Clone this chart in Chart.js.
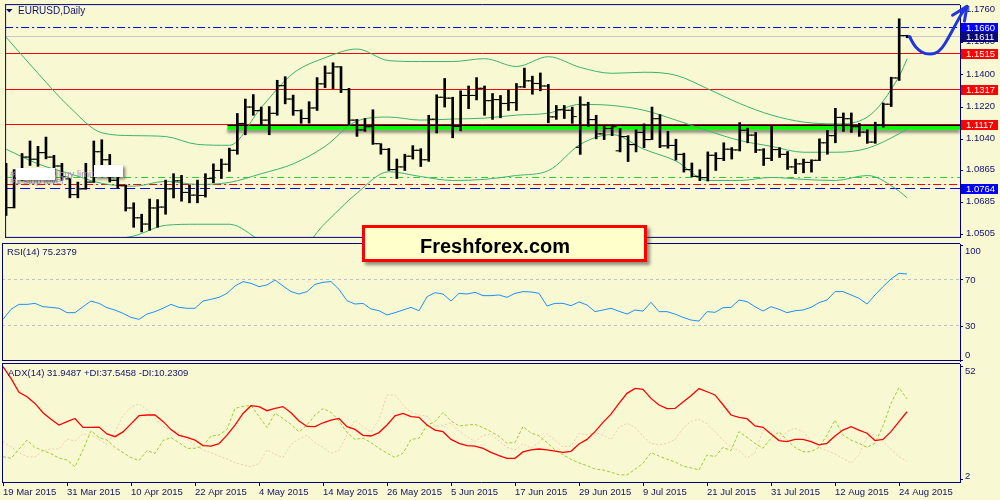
<!DOCTYPE html>
<html>
<head>
<meta charset="utf-8">
<title>EURUSD Daily</title>
<script src="https://cdn.jsdelivr.net/npm/chart.js@4.4.1/dist/chart.umd.min.js"></script>
<style>
  html, body { margin:0; padding:0; background:#F8F8D2; }
  #wrap { position:relative; width:1000px; height:500px; overflow:hidden; background:#F8F8D2; }
  #wrap canvas { position:absolute; left:0; }
  #brand { position:absolute; left:362px; top:225px; width:285px; height:37px; box-sizing:border-box;
    border:3px solid #FF0000; background:#FFFFCC; box-shadow:3px 3px 3px rgba(60,60,60,0.55);
    font:bold 20px "Liberation Sans", Arial, sans-serif; color:#000; z-index:5; }
  #brand span { position:absolute; left:55px; top:7px; line-height:22px; white-space:nowrap; }
</style>
</head>
<body>
<div id="wrap">
  <canvas id="cMain" width="1000" height="243" style="top:0px"></canvas>
  <canvas id="cRsi" width="1000" height="119" style="top:243px"></canvas>
  <canvas id="cAdx" width="1000" height="138" style="top:362px"></canvas>
  <div id="brand"><span>Freshforex.com</span></div>
</div>
<script>
// ---------------- DATA ----------------
const dates = [
 '19 Mar 2015','20 Mar 2015','23 Mar 2015','24 Mar 2015','25 Mar 2015','26 Mar 2015','27 Mar 2015','30 Mar 2015','31 Mar 2015',
 '1 Apr 2015','2 Apr 2015','3 Apr 2015','6 Apr 2015','7 Apr 2015','8 Apr 2015','9 Apr 2015','10 Apr 2015','13 Apr 2015','14 Apr 2015',
 '15 Apr 2015','16 Apr 2015','17 Apr 2015','20 Apr 2015','21 Apr 2015','22 Apr 2015','23 Apr 2015','24 Apr 2015','27 Apr 2015',
 '28 Apr 2015','29 Apr 2015','30 Apr 2015',
 '1 May 2015','4 May 2015','5 May 2015','6 May 2015','7 May 2015','8 May 2015','11 May 2015','12 May 2015','13 May 2015','14 May 2015',
 '15 May 2015','18 May 2015','19 May 2015','20 May 2015','21 May 2015','22 May 2015','25 May 2015','26 May 2015','27 May 2015',
 '28 May 2015','29 May 2015',
 '1 Jun 2015','2 Jun 2015','3 Jun 2015','4 Jun 2015','5 Jun 2015','8 Jun 2015','9 Jun 2015','10 Jun 2015','11 Jun 2015','12 Jun 2015',
 '15 Jun 2015','16 Jun 2015','17 Jun 2015','18 Jun 2015','19 Jun 2015','22 Jun 2015','23 Jun 2015','24 Jun 2015','25 Jun 2015',
 '26 Jun 2015','29 Jun 2015','30 Jun 2015',
 '1 Jul 2015','2 Jul 2015','3 Jul 2015','6 Jul 2015','7 Jul 2015','8 Jul 2015','9 Jul 2015','10 Jul 2015','13 Jul 2015','14 Jul 2015',
 '15 Jul 2015','16 Jul 2015','17 Jul 2015','20 Jul 2015','21 Jul 2015','22 Jul 2015','23 Jul 2015','24 Jul 2015','27 Jul 2015',
 '28 Jul 2015','29 Jul 2015','30 Jul 2015','31 Jul 2015',
 '3 Aug 2015','4 Aug 2015','5 Aug 2015','6 Aug 2015','7 Aug 2015','10 Aug 2015','11 Aug 2015','12 Aug 2015','13 Aug 2015',
 '14 Aug 2015','17 Aug 2015','18 Aug 2015','19 Aug 2015','20 Aug 2015','21 Aug 2015','24 Aug 2015','25 Aug 2015'
];

const axisDates = ['19 Mar 2015','31 Mar 2015','10 Apr 2015','22 Apr 2015','4 May 2015','14 May 2015','26 May 2015',
 '5 Jun 2015','17 Jun 2015','29 Jun 2015','9 Jul 2015','21 Jul 2015','31 Jul 2015','12 Aug 2015','24 Aug 2015'];

const opens = [
 1.0836,1.0657,1.0822,1.0940,1.0928,1.0965,1.0940,1.0890,1.0818,1.0730,
 1.0762,1.0800,1.0970,1.0925,1.0810,1.0780,1.0655,1.0600,1.0565,1.0655,
 1.0660,1.0762,1.0807,1.0742,1.0727,1.0725,1.0820,1.0865,1.0900,1.0978,
 1.1128,1.1220,1.1200,1.1147,1.1185,1.1340,1.1265,1.1200,1.1156,1.1215,
 1.1350,1.1410,1.1445,1.1318,1.1147,1.1092,1.1110,1.1015,1.0983,1.0870,
 1.0885,1.0945,1.0978,1.0925,1.1152,1.1275,1.1270,1.1112,1.1285,1.1285,
 1.1325,1.1256,1.1262,1.1240,1.1245,1.1333,1.1367,1.1352,1.1338,1.1165,
 1.1205,1.1202,1.0995,1.1232,1.1150,1.1070,1.1100,1.0975,1.1055,1.1010,
 1.1078,1.1038,1.1155,1.1003,1.1005,1.0955,1.0870,1.0832,1.0825,1.0950,
 1.0932,1.0984,1.0980,1.1090,1.1063,1.0980,1.0933,1.0982,1.0955,1.0885,
 1.0902,1.0910,1.0922,1.1020,1.1060,1.1162,1.1155,1.1110,1.1080,1.1024,
 1.1120,1.1236,1.1383,1.1620];
const highs = [
 1.0905,1.0870,1.0960,1.1030,1.1000,1.1052,1.0950,1.0905,1.0822,1.0800,
 1.0905,1.1030,1.1037,1.0955,1.0838,1.0784,1.0684,1.0620,1.0705,1.0702,
 1.0811,1.0847,1.0838,1.0784,1.0811,1.0847,1.0902,1.0929,1.0990,1.1184,
 1.1265,1.1290,1.1220,1.1223,1.1370,1.1390,1.1287,1.1205,1.1250,1.1385,
 1.1450,1.1468,1.1447,1.1325,1.1151,1.1156,1.1205,1.1015,1.0988,1.0929,
 1.0956,1.1004,1.0987,1.1174,1.1289,1.1380,1.1275,1.1311,1.1338,1.1385,
 1.1338,1.1296,1.1285,1.1316,1.1352,1.1438,1.1393,1.1411,1.1347,1.1229,
 1.1229,1.1220,1.1278,1.1247,1.1174,1.1114,1.1120,1.1101,1.1060,1.1093,
 1.1126,1.1220,1.1178,1.1084,1.1040,1.0962,1.0907,1.0869,1.0969,1.0965,
 1.1020,1.0993,1.1133,1.1102,1.1078,1.0987,1.1114,1.0993,1.0971,1.0929,
 1.0929,1.0925,1.1042,1.1089,1.1213,1.1187,1.1187,1.1129,1.1093,1.1135,
 1.1243,1.1387,1.1714,1.1622];
const lows = [
 1.0613,1.0655,1.0810,1.0893,1.0888,1.0930,1.0840,1.0810,1.0712,1.0712,
 1.0760,1.0798,1.0878,1.0800,1.0766,1.0638,1.0547,1.0521,1.0530,1.0547,
 1.0620,1.0711,1.0693,1.0684,1.0684,1.0716,1.0796,1.0820,1.0860,1.0956,
 1.1065,1.1174,1.1120,1.1065,1.1174,1.1238,1.1174,1.1129,1.1130,1.1201,
 1.1329,1.1323,1.1301,1.1120,1.1056,1.1084,1.1011,1.0956,1.0865,1.0820,
 1.0865,1.0929,1.0887,1.0916,1.1075,1.1220,1.1048,1.1087,1.1211,1.1260,
 1.1174,1.1151,1.1160,1.1201,1.1201,1.1329,1.1292,1.1311,1.1132,1.1151,
 1.1156,1.1129,1.0955,1.1111,1.1042,1.1038,1.1060,1.0969,1.0915,1.0969,
 1.0993,1.1038,1.0993,1.0990,1.0923,1.0856,1.0829,1.0808,1.0806,1.0865,
 1.0920,1.0929,1.0974,1.1020,1.0965,1.0893,1.0920,1.0938,1.0871,1.0847,
 1.0852,1.0856,1.0920,1.0956,1.1020,1.1084,1.1078,1.1056,1.1017,1.1017,
 1.1107,1.1223,1.1369,1.1608];
const closes = [
 1.0657,1.0822,1.0940,1.0928,1.0965,1.0940,1.0890,1.0830,1.0730,1.0762,
 1.0800,1.0970,1.0925,1.0810,1.0780,1.0655,1.0600,1.0565,1.0655,1.0660,
 1.0762,1.0807,1.0742,1.0727,1.0725,1.0820,1.0865,1.0900,1.0978,1.1128,
 1.1220,1.1200,1.1147,1.1185,1.1340,1.1265,1.1200,1.1156,1.1215,1.1350,
 1.1410,1.1445,1.1318,1.1147,1.1092,1.1110,1.1015,1.0983,1.0870,1.0885,
 1.0945,1.0978,1.0925,1.1152,1.1275,1.1270,1.1112,1.1285,1.1285,1.1325,
 1.1256,1.1262,1.1240,1.1245,1.1333,1.1367,1.1352,1.1338,1.1165,1.1205,
 1.1202,1.1167,1.1232,1.1150,1.1070,1.1100,1.1110,1.1055,1.1010,1.1078,
 1.1038,1.1155,1.1003,1.1005,1.0955,1.0870,1.0832,1.0825,1.0950,1.0932,
 1.0984,1.0980,1.1090,1.1063,1.0980,1.0933,1.0982,1.0955,1.0885,1.0902,
 1.0910,1.0922,1.1020,1.1060,1.1162,1.1155,1.1110,1.1080,1.1024,1.1120,
 1.1236,1.1383,1.1620,1.1611];

// Bollinger bands at every 4th bar (bar index)
const bbIdx = [0,4,8,12,16,20,24,28,32,36,40,44,48,52,56,60,64,68,72,76,80,84,88,92,96,100,104,108,112,113];
const bbUpper = [1.1611,1.1409,1.1218,1.1076,1.1060,1.1055,1.1011,1.1006,1.1218,1.1409,1.1496,1.1545,1.1480,1.1475,1.1475,
 1.1491,1.1447,1.1502,1.1442,1.1409,1.1415,1.1398,1.1322,1.1240,1.1175,1.1136,1.1126,1.1164,1.1393,1.1491];
const bbMiddle = [1.0984,1.0902,1.0847,1.0793,1.0777,1.0804,1.0787,1.0798,1.0847,1.0902,1.1000,1.1142,1.1164,1.1147,1.1153,
 1.1158,1.1175,1.1186,1.1235,1.1229,1.1202,1.1147,1.1087,1.1033,1.1000,1.0967,1.0967,1.0989,1.1071,1.1098];
const bbLower = [1.0357,1.0395,1.0477,1.0477,1.0498,1.0558,1.0564,1.0564,1.0471,1.0395,1.0569,1.0738,1.0858,1.0831,1.0809,
 1.0815,1.0837,1.0864,1.1011,1.1066,1.0984,1.0918,1.0809,1.0809,1.0826,1.0815,1.0809,1.0837,1.0749,1.0711];

const rsi = [
 35.8,44.5,48.8,48.8,49.7,46.8,46.2,45.4,41.6,41.6,
 46.8,51.7,49.7,45.9,43.9,41.0,37.5,35.8,40.4,42.5,
 45.4,48.8,46.2,45.4,45.4,51.7,53.2,54.9,58.4,64.8,
 68.6,67.1,64.2,65.7,70.0,64.8,59.9,57.8,59.9,66.2,
 68.0,68.6,61.9,52.0,49.1,49.7,44.8,43.3,39.6,41.6,
 43.9,46.2,43.3,55.5,59.0,57.8,51.7,58.4,57.8,59.3,
 56.4,56.4,57.0,54.9,58.4,59.9,59.6,58.4,47.4,49.7,
 49.7,47.7,50.9,48.3,42.5,43.9,45.4,42.8,40.4,43.9,
 43.0,50.6,42.5,42.5,40.4,37.5,35.2,34.3,42.5,41.9,
 45.9,46.2,52.6,51.2,46.8,43.0,46.8,44.5,41.6,43.3,
 43.9,46.2,50.3,52.6,59.9,59.9,57.0,54.1,49.1,57.0,
 64.2,70.9,75.8,75.2379];
const adx = [
 51.7,46.6,40.5,38.5,35.6,31.5,28.6,26.1,27.6,29.0,
 25.1,25.1,25.2,22.2,21.0,23.1,26.6,30.2,30.5,30.5,
 27.7,24.1,21.6,20.7,19.5,17.1,16.9,17.9,21.7,26.1,
 31.2,34.6,34.2,32.4,33.4,34.2,31.5,27.9,25.5,25.4,
 27.1,28.3,29.0,25.4,24.2,21.6,21.3,22.8,26.1,30.1,
 31.2,29.8,29.5,26.1,23.9,23.2,19.8,18.1,17.1,16.9,
 15.9,14.1,12.7,11.5,11.5,14.3,15.2,15.6,15.2,14.7,
 14.1,14.6,17.8,19.8,23.2,27.3,30.9,35.6,40.0,42.2,
 41.8,37.8,34.9,33.3,33.4,36.2,39.0,42.1,40.7,39.3,
 35.0,30.5,29.5,28.9,25.7,25.1,22.2,19.3,18.8,19.8,
 19.8,18.8,17.4,18.1,21.3,23.9,25.4,23.9,22.5,19.3,
 19.8,23.2,27.6,31.9487];
const plusDI = [
 12.2,11.5,15.5,19.5,16.3,14.9,13.5,11.6,10.8,7.8,
 15.2,23.6,20.6,19.5,16.3,14.0,11.9,10.5,14.9,13.7,
 19.3,20.6,18.4,15.9,15.9,16.9,21.3,21.7,24.2,33.4,
 34.3,34.7,29.8,25.0,31.2,29.0,26.4,23.1,26.1,30.5,
 33.3,31.7,27.9,22.8,19.8,20.4,18.4,15.9,13.8,11.9,
 13.7,19.8,20.3,26.1,27.6,31.7,27.9,25.7,26.1,26.4,
 25.0,23.2,21.2,18.1,18.5,25.4,22.6,21.4,18.4,15.2,
 13.1,11.1,9.5,8.3,6.8,6.4,5.4,4.3,4.2,6.7,
 9.3,14.0,12.5,11.1,9.9,8.1,7.3,6.4,13.0,12.2,
 16.3,14.9,23.2,20.7,18.1,15.9,20.3,23.2,19.5,16.3,
 14.4,14.4,16.3,21.7,28.3,21.7,19.5,18.1,16.3,18.1,
 25.7,35.6,42.5,37.5458];
const minusDI = [
 18.8,16.6,14.0,12.2,12.1,14.7,15.7,15.5,20.0,19.1,
 22.3,21.7,19.8,17.5,23.2,30.2,33.9,35.5,32.8,29.0,
 25.5,23.9,22.9,20.0,17.2,15.2,14.0,12.5,11.2,9.6,
 8.6,7.8,9.3,15.2,13.3,11.9,17.6,20.0,21.6,18.4,
 16.3,13.7,14.9,21.9,28.3,25.4,22.9,28.6,39.3,39.3,
 34.9,31.5,30.5,30.1,25.4,26.1,26.9,23.3,21.0,18.8,
 21.6,22.2,19.1,16.3,15.2,17.9,16.0,18.5,22.3,19.5,
 16.5,16.9,22.5,21.7,22.9,21.7,19.7,25.0,26.9,25.1,
 21.2,18.1,17.4,18.1,19.7,24.7,27.7,28.6,26.7,23.2,
 19.5,16.3,15.0,11.6,14.0,23.8,22.6,19.5,23.2,24.7,
 23.2,19.5,16.3,14.9,13.4,11.5,9.3,13.0,21.0,22.2,
 18.8,15.5,12.2,10.2309];

const priceTicks = [1.1760, 1.1580, 1.1400, 1.1220, 1.1040, 1.0865, 1.0685, 1.0505];
const rsiTicks = [100, 70, 30, 0];
const rsiLevels = [70, 30];
const adxTicks = [52, 2];

// horizontal price objects
const priceLevels = [1.1660, 1.1611, 1.1515, 1.1317, 1.1117, 1.0824, 1.0786, 1.0764];
const supportLevel = 1.1117;
const supportStartBar = 27.75;
const boxLevels = [1.1660, 1.1611, 1.1515, 1.1317, 1.1117, 1.0764];
// hand-drawn forecast arrow, [bar index, price]
const forecastArrow = [[113.29,1.1615],[113.75,1.1573],[114.4,1.1540],[115.25,1.1517],[116.5,1.1517],
 [117.35,1.1547],[118.1,1.1602],[119.2,1.1693],[120.0,1.1757],[120.5,1.1784]];

// ---------------- STYLE ----------------
const FONT = '"Liberation Sans", Arial, sans-serif';
const NAVY = '#000080';
const TXT = '#12126e';
const LFONT = '9.5px ' + FONT;
const levelColors = ['#0000FF','#C8C8C8','#FF0000','#FF0000','#FF0000','#32CD32','#FF0000','#0000FF'];
const levelDashes = [[8,3,2,3],[],[],[],[],[7,4,2,4],[8,3,2,3],[10,5]];
const boxColors = ['#0000FF','#0A0A78','#FF0000','#FF0000','#FF0000','#0000FF'];
const X_MIN = -0.125, X_MAX = 119.625;
const TICK_R = 1.75;
const TICK_SHIFT = (1 + TICK_R) / 8;

Chart.defaults.font.family = FONT;
Chart.defaults.animation = false;
Chart.defaults.events = [];
Chart.defaults.plugins.legend.display = false;
Chart.defaults.plugins.tooltip.enabled = false;

const fixY = s => { s.width = 40; s.paddingTop = 0; s.paddingBottom = 0; s.paddingLeft = 0; s.paddingRight = 0; };
const fixX = s => { s.height = 18; s.paddingLeft = 0; s.paddingRight = 0; s.paddingTop = 0; s.paddingBottom = 0; };

function xHidden() {
  return { type:'linear', display:false, min:X_MIN, max:X_MAX, offset:false, bounds:'data' };
}
function yAxis(min, max, ticks, showLabels) {
  return {
    type:'linear', position:'right', min:min, max:max, bounds:'data',
    afterBuildTicks: s => { s.ticks = ticks.map(v => ({ value: v })); },
    afterFit: fixY,
    ticks: { display: showLabels, autoSkip:false, padding:3, color:TXT, font:{ size:9.5 }, labelOffset:-1,
             callback: v => v.toFixed(4) },
    grid: { drawOnChartArea:false, drawTicks:true, tickLength:3, color:NAVY },
    border: { display:true, color:NAVY, width:1 }
  };
}
function frame(ctx, a, withBottom) {
  ctx.save();
  ctx.strokeStyle = NAVY; ctx.lineWidth = 1; ctx.setLineDash([]);
  ctx.beginPath();
  ctx.moveTo(a.left + 0.5, a.top - 0.5); ctx.lineTo(a.left + 0.5, a.bottom);
  ctx.moveTo(a.left, a.top - 0.5); ctx.lineTo(a.right, a.top - 0.5);
  if (withBottom) { ctx.moveTo(a.left, a.bottom - 0.5); ctx.lineTo(a.right, a.bottom - 0.5); }
  ctx.stroke();
  ctx.restore();
}
function sideLabels(chart, values) {
  const { ctx, chartArea: a, scales: { y } } = chart;
  ctx.save();
  ctx.font = LFONT; ctx.fillStyle = TXT; ctx.textAlign = 'left'; ctx.textBaseline = 'middle';
  values.forEach(v => {
    let py = y.getPixelForValue(v);
    py = Math.min(Math.max(py, a.top + 7), a.bottom - 6);
    ctx.fillText(String(v), a.right + 5, py);
  });
  ctx.restore();
}

// ---------------- MAIN PRICE CHART ----------------
const mainDeco = {
  id: 'mainDeco',
  beforeDatasetsDraw(chart) {
    const { ctx, chartArea: a, scales: { x, y } } = chart;
    ctx.save();
    ctx.beginPath(); ctx.rect(a.left, a.top, a.right - a.left, a.bottom - a.top); ctx.clip();
    priceLevels.forEach((v, k) => {
      const py = Math.round(y.getPixelForValue(v)) - 0.5;
      ctx.beginPath();
      ctx.setLineDash(levelDashes[k]);
      ctx.strokeStyle = levelColors[k]; ctx.lineWidth = 1;
      ctx.moveTo(a.left, py); ctx.lineTo(a.right, py); ctx.stroke();
    });
    ctx.setLineDash([]);
    const sy = y.getPixelForValue(supportLevel);
    const sx = x.getPixelForValue(supportStartBar);
    ctx.save();
    ctx.shadowColor = 'rgba(0,0,0,0.45)'; ctx.shadowBlur = 3; ctx.shadowOffsetY = 3;
    ctx.strokeStyle = '#00FF00'; ctx.lineWidth = 3.8;
    ctx.beginPath(); ctx.moveTo(sx, sy + 2.5); ctx.lineTo(a.right, sy + 2.5); ctx.stroke();
    ctx.restore();
    ctx.strokeStyle = '#000000'; ctx.lineWidth = 1.3;
    ctx.beginPath(); ctx.moveTo(sx, sy); ctx.lineTo(a.right, sy); ctx.stroke();
    ctx.restore();
  },
  afterDraw(chart) {
    const { ctx, chartArea: a, scales: { x, y } } = chart;
    frame(ctx, a, true);
    ctx.save();
    // title
    ctx.fillStyle = NAVY;
    ctx.beginPath(); ctx.moveTo(6, 9); ctx.lineTo(12.5, 9); ctx.lineTo(9.25, 12.5); ctx.closePath(); ctx.fill();
    ctx.font = '10px ' + FONT; ctx.fillStyle = TXT; ctx.textBaseline = 'middle'; ctx.textAlign = 'left';
    ctx.fillText('EURUSD,Daily', 18, 11);
    // pending order labels (partly hidden)
    ctx.font = LFONT;
    ctx.fillStyle = '#A08CC0';
    ctx.fillText('#', 10, 174);
    ctx.fillText('buy limit', 59, 174);
    ctx.fillText('#1 stop level', 10, 181);
    ctx.save();
    ctx.shadowColor = 'rgba(0,0,0,0.5)'; ctx.shadowBlur = 3; ctx.shadowOffsetX = 2; ctx.shadowOffsetY = 2;
    ctx.fillStyle = '#FFFFFF';
    ctx.fillRect(16, 168, 39, 12);
    ctx.fillRect(94, 165, 29, 12);
    ctx.restore();
    // price boxes on the axis
    ctx.font = LFONT; ctx.textBaseline = 'middle'; ctx.textAlign = 'left';
    boxLevels.forEach((v, k) => {
      const py = Math.round(y.getPixelForValue(v));
      ctx.fillStyle = boxColors[k];
      ctx.fillRect(a.right + 1, py - 5, 37, 10);
      ctx.fillStyle = '#FFFFFF';
      ctx.fillText(v.toFixed(4), a.right + 6, py + 0.5);
    });
    // forecast arrow
    const pts = forecastArrow.map(p => [x.getPixelForValue(p[0]), y.getPixelForValue(p[1])]);
    ctx.strokeStyle = '#1F35E0'; ctx.lineWidth = 3; ctx.lineCap = 'round'; ctx.lineJoin = 'round';
    ctx.beginPath(); ctx.moveTo(pts[0][0], pts[0][1]);
    for (let i = 1; i < pts.length - 1; i++) {
      const mx = (pts[i][0] + pts[i + 1][0]) / 2, my = (pts[i][1] + pts[i + 1][1]) / 2;
      ctx.quadraticCurveTo(pts[i][0], pts[i][1], mx, my);
    }
    const tip = pts[pts.length - 1];
    ctx.lineTo(tip[0], tip[1]);
    ctx.stroke();
    const prev = pts[pts.length - 3];
    const ang = Math.atan2(prev[1] - tip[1], prev[0] - tip[0]);
    ctx.beginPath();
    ctx.moveTo(tip[0] + 17 * Math.cos(ang + 0.45), tip[1] + 17 * Math.sin(ang + 0.45));
    ctx.lineTo(tip[0], tip[1]);
    ctx.lineTo(tip[0] + 15 * Math.cos(ang - 0.4), tip[1] + 15 * Math.sin(ang - 0.4));
    ctx.stroke();
    ctx.restore();
  }
};

new Chart(document.getElementById('cMain'), {
  type: 'line',
  data: {
    datasets: [
      { type:'bar', data: dates.map((d, i) => ({ x:i, y:[lows[i], highs[i]] })), backgroundColor:'#000000',
        borderWidth:0, barThickness:2, grouped:false, order:0 },
      { type:'scatter', data: dates.map((d, i) => ({ x:i - TICK_SHIFT, y:opens[i] })), showLine:false,
        pointStyle:'line', pointRadius:TICK_R, pointBorderWidth:1.1, pointBorderColor:'#000000', borderColor:'#000000', order:0 },
      { type:'scatter', data: dates.map((d, i) => ({ x:i + TICK_SHIFT, y:closes[i] })), showLine:false,
        pointStyle:'line', pointRadius:TICK_R, pointBorderWidth:1.1, pointBorderColor:'#000000', borderColor:'#000000', order:0 },
      { type:'line', data: bbIdx.map((ix, k) => ({ x:ix, y:bbUpper[k] })), borderColor:'#3CB371', borderWidth:1,
        pointRadius:0, cubicInterpolationMode:'monotone', order:1 },
      { type:'line', data: bbIdx.map((ix, k) => ({ x:ix, y:bbMiddle[k] })), borderColor:'#3CB371', borderWidth:1,
        pointRadius:0, cubicInterpolationMode:'monotone', order:1 },
      { type:'line', data: bbIdx.map((ix, k) => ({ x:ix, y:bbLower[k] })), borderColor:'#3CB371', borderWidth:1,
        pointRadius:0, cubicInterpolationMode:'monotone', order:1 }
    ]
  },
  options: {
    responsive:false, maintainAspectRatio:false,
    layout: { padding: { left:2, top:2, right:0, bottom:2 } },
    scales: { x: xHidden(), y: yAxis(1.04875, 1.17909, priceTicks, true) }
  },
  plugins: [mainDeco]
});

// ---------------- RSI ----------------
const rsiDeco = {
  id: 'rsiDeco',
  beforeDatasetsDraw(chart) {
    const { ctx, chartArea: a, scales: { y } } = chart;
    ctx.save(); ctx.strokeStyle = '#C0C0C0'; ctx.setLineDash([3, 3]); ctx.lineWidth = 1;
    rsiLevels.forEach(v => {
      const py = Math.round(y.getPixelForValue(v)) - 0.5;
      ctx.beginPath(); ctx.moveTo(a.left, py); ctx.lineTo(a.right, py); ctx.stroke();
    });
    ctx.restore();
  },
  afterDraw(chart) {
    const { ctx, chartArea: a } = chart;
    frame(ctx, a, true);
    sideLabels(chart, rsiTicks);
    ctx.save();
    ctx.font = LFONT; ctx.fillStyle = TXT; ctx.textAlign = 'left'; ctx.textBaseline = 'middle';
    ctx.fillText('RSI(14) ' + rsi[rsi.length - 1].toFixed(4), a.left + 5, a.top + 8.5);
    ctx.restore();
  }
};
new Chart(document.getElementById('cRsi'), {
  type: 'line',
  data: { datasets: [
    { data: dates.map((d, i) => ({ x:i, y:rsi[i] })), borderColor:'#1E90FF', borderWidth:1, pointRadius:0 }
  ] },
  options: {
    responsive:false, maintainAspectRatio:false,
    layout: { padding: { left:2, top:1, right:0, bottom:1 } },
    scales: { x: xHidden(), y: yAxis(-0.43, 101.3, rsiTicks, false) }
  },
  plugins: [rsiDeco]
});

// ---------------- ADX ----------------
const adxDeco = {
  id: 'adxDeco',
  afterDraw(chart) {
    const { ctx, chartArea: a } = chart;
    frame(ctx, a, false);
    sideLabels(chart, adxTicks);
    ctx.save();
    ctx.font = LFONT; ctx.fillStyle = TXT; ctx.textAlign = 'left'; ctx.textBaseline = 'middle';
    const n = adx.length - 1;
    ctx.fillText('ADX(14) ' + adx[n].toFixed(4) + ' +DI:' + plusDI[n].toFixed(4) + ' -DI:' + minusDI[n].toFixed(4),
      a.left + 6, a.top + 9.3);
    ctx.restore();
  }
};
new Chart(document.getElementById('cAdx'), {
  type: 'line',
  data: { datasets: [
    { data: dates.map((d, i) => ({ x:i, y:minusDI[i] })), borderColor:'#F3C9B5', borderWidth:1, borderDash:[2,2], pointRadius:0, order:3 },
    { data: dates.map((d, i) => ({ x:i, y:plusDI[i] })), borderColor:'#9ACD32', borderWidth:1, borderDash:[3,2], pointRadius:0, order:2 },
    { data: dates.map((d, i) => ({ x:i, y:adx[i] })), borderColor:'#FF0000', borderWidth:1.3, pointRadius:0, order:1 }
  ] },
  options: {
    responsive:false, maintainAspectRatio:false,
    layout: { padding: { left:2, top:2, right:0, bottom:0 } },
    scales: {
      x: { type:'linear', position:'bottom', min:X_MIN, max:X_MAX, offset:false, bounds:'data',
           afterBuildTicks: s => { s.ticks = axisDates.map(d => ({ value: dates.indexOf(d) })); },
           afterFit: fixX,
           ticks: { autoSkip:false, maxRotation:0, minRotation:0, align:'start', padding:1, color:TXT,
                    font:{ size:9.5 }, callback: (v, i) => axisDates[i] },
           grid: { drawOnChartArea:false, drawTicks:true, tickLength:4, color:NAVY },
           border: { display:true, color:NAVY, width:1 } },
      y: yAxis(1.12, 52.88, adxTicks, false)
    }
  },
  plugins: [adxDeco]
});
</script>
</body>
</html>
